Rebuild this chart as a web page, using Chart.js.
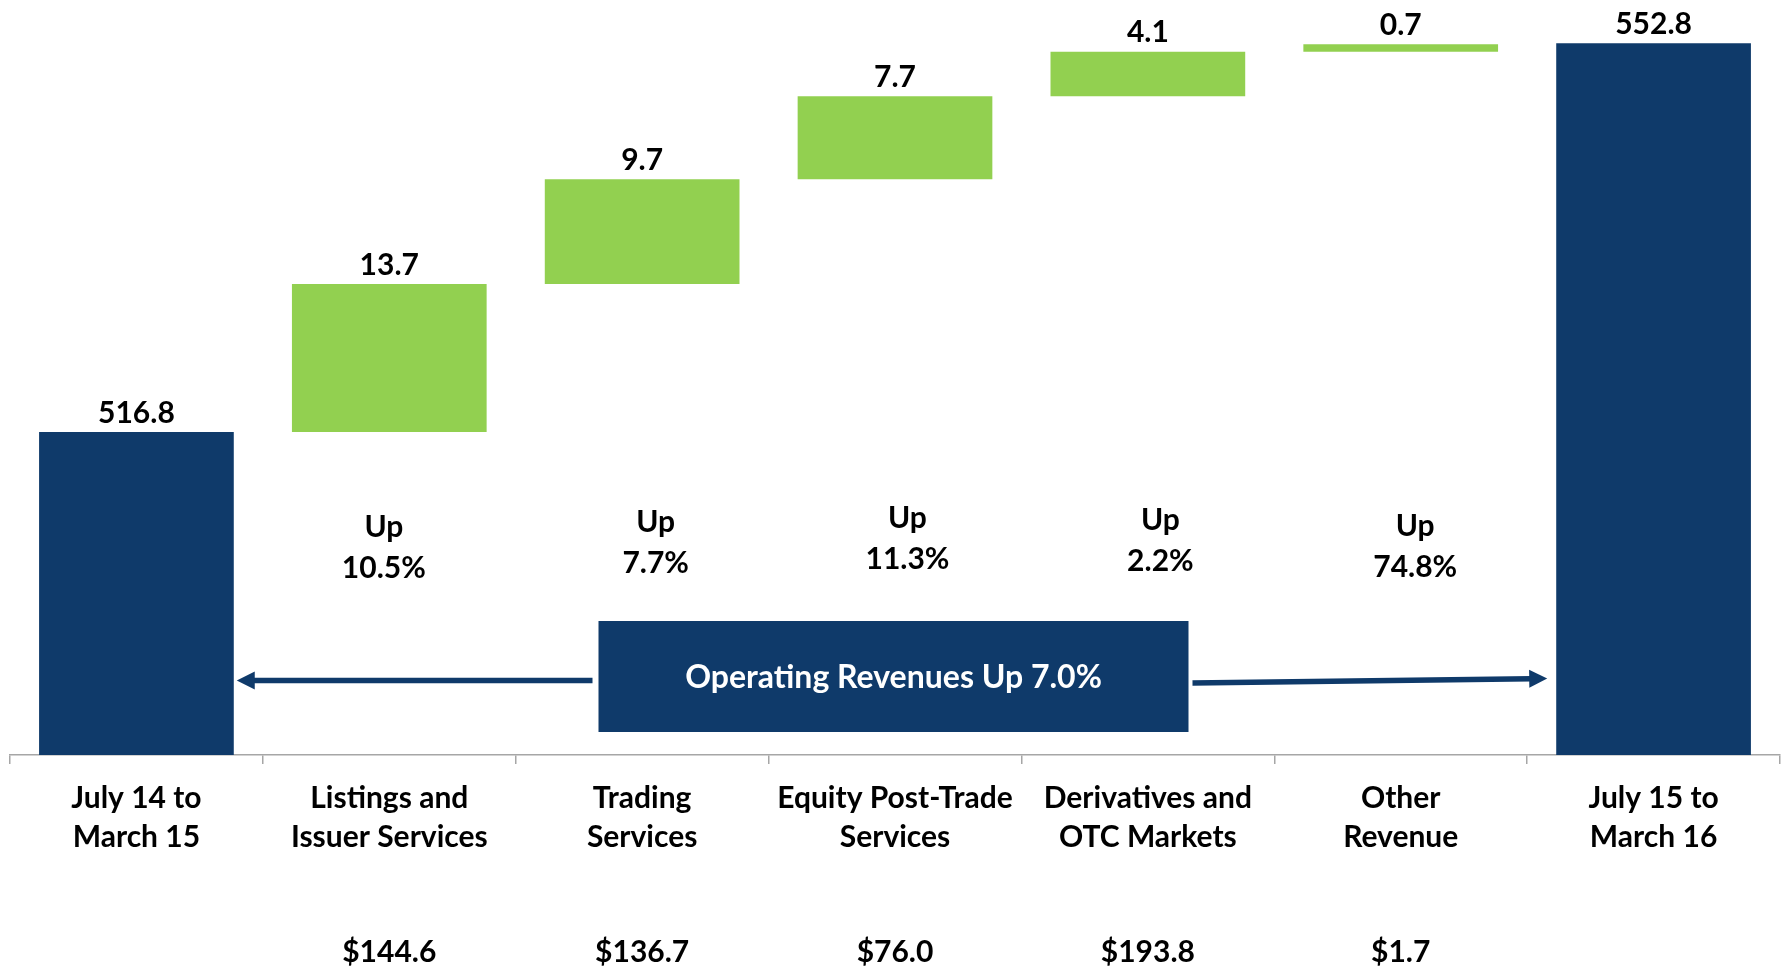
<!DOCTYPE html>
<html>
<head>
<meta charset="utf-8">
<script src="https://cdn.jsdelivr.net/npm/chart.js@4.4.1/dist/chart.umd.min.js"></script>
<style>
  html, body { margin: 0; padding: 0; background: #ffffff; }
  canvas { display: block; }
</style>
</head>
<body>
<canvas id="c" width="1789" height="967"></canvas>
<script>
// ---------- data ----------
const categories = [
  ['July 14 to', 'March 15'],
  ['Listings and', 'Issuer Services'],
  ['Trading', 'Services'],
  ['Equity Post-Trade', 'Services'],
  ['Derivatives and', 'OTC Markets'],
  ['Other', 'Revenue'],
  ['July 15 to', 'March 16']
];
const openingTotal = 516.8;
const closingTotal = 552.8;
const segmentChanges = [13.7, 9.7, 7.7, 4.1, 0.7];
const growthRates = ['10.5%', '7.7%', '11.3%', '2.2%', '74.8%'];
const segmentRevenues = ['$144.6', '$136.7', '$76.0', '$193.8', '$1.7'];
const summaryText = 'Operating Revenues Up 7.0%';
const axisMin = 486.9;
const axisMax = 556.8;

// ---------- styles ----------
const NAVY = '#0F3A6A';
const GREEN = '#92D050';
const FONT = 'Lato';
const FS = 30;

// ---------- build waterfall ranges ----------
const ranges = [];
const barLabels = [];
const barColors = [];
ranges.push([axisMin, openingTotal]);
barLabels.push(openingTotal.toFixed(1));
barColors.push(NAVY);
let running = openingTotal;
segmentChanges.forEach(v => {
  ranges.push([running, running + v]);
  running += v;
  barLabels.push(v.toFixed(1));
  barColors.push(GREEN);
});
ranges.push([axisMin, closingTotal]);
barLabels.push(closingTotal.toFixed(1));
barColors.push(NAVY);

function drawArrow(ctx, x1, y1, x2, y2, headLen, headHalf, width) {
  const ang = Math.atan2(y2 - y1, x2 - x1);
  const bx = x2 - Math.cos(ang) * headLen;
  const by = y2 - Math.sin(ang) * headLen;
  ctx.strokeStyle = NAVY;
  ctx.lineWidth = width;
  ctx.lineCap = 'butt';
  ctx.beginPath();
  ctx.moveTo(x1, y1);
  ctx.lineTo(bx + Math.cos(ang) * 2, by + Math.sin(ang) * 2);
  ctx.stroke();
  ctx.fillStyle = NAVY;
  ctx.beginPath();
  ctx.moveTo(x2, y2);
  ctx.lineTo(bx - Math.sin(ang) * headHalf, by + Math.cos(ang) * headHalf);
  ctx.lineTo(bx + Math.sin(ang) * headHalf, by - Math.cos(ang) * headHalf);
  ctx.closePath();
  ctx.fill();
}

const annotate = {
  id: 'annotate',
  afterDatasetsDraw(chart) {
    const ctx = chart.ctx;
    const xs = chart.scales.x;
    const meta = chart.getDatasetMeta(0);
    ctx.save();
    ctx.font = `bold ${FS}px ${FONT}`;
    ctx.fillStyle = '#000000';
    ctx.textAlign = 'center';
    ctx.textBaseline = 'alphabetic';

    // value labels above bars
    meta.data.forEach((el, i) => {
      ctx.fillText(barLabels[i], el.x, el.y - 9.5);
    });

    // growth annotations
    const offs = [[-5.5, 536.7], [13.5, 531.7], [12.5, 527.7], [12.5, 529.7], [14.5, 535.7]];
    growthRates.forEach((g, i) => {
      const cx = xs.getPixelForValue(i + 1) + offs[i][0];
      ctx.fillText('Up', cx, offs[i][1]);
      ctx.fillText(g, cx, offs[i][1] + 41);
    });

    // segment revenue row
    segmentRevenues.forEach((s, i) => {
      ctx.fillText(s, xs.getPixelForValue(i + 1), 962);
    });

    // summary box
    const bx = xs.getPixelForValue(3) - 1.5;
    const bw = 590, btop = 621, bh = 111;
    ctx.fillStyle = NAVY;
    ctx.fillRect(bx - bw / 2, btop, bw, bh);
    ctx.fillStyle = '#ffffff';
    ctx.font = `bold 32px ${FONT}`;
    ctx.fillText(summaryText, bx, 688);

    // arrows
    const first = meta.data[0];
    const last = meta.data[meta.data.length - 1];
    const firstRight = first.x + first.width / 2;
    const lastLeft = last.x - last.width / 2;
    drawArrow(ctx, bx - bw / 2 - 6, 680.5, firstRight + 3, 680.5, 18, 9, 5.5);
    drawArrow(ctx, bx + bw / 2 + 4, 683, lastLeft - 9, 678.5, 18, 9, 5.5);

    ctx.restore();
  }
};

function build() {
  new Chart(document.getElementById('c'), {
    type: 'bar',
    data: {
      labels: categories,
      datasets: [{
        data: ranges,
        backgroundColor: barColors,
        borderWidth: 0,
        barPercentage: 0.77,
        categoryPercentage: 1.0
      }]
    },
    options: {
      responsive: false,
      animation: false,
      layout: { padding: { left: 10, right: 9, top: 0, bottom: 0 } },
      plugins: { legend: { display: false }, tooltip: { enabled: false } },
      scales: {
        x: {
          grid: {
            display: true,
            offset: true,
            drawOnChartArea: false,
            drawTicks: true,
            tickLength: 9,
            color: '#A6A6A6',
            lineWidth: 1.5
          },
          border: { display: true, color: '#A6A6A6', width: 1.5 },
          ticks: {
            color: '#000000',
            font: { family: FONT, weight: 'bold', size: FS, lineHeight: 39 / FS },
            padding: 14.5,
            autoSkip: false,
            maxRotation: 0,
            minRotation: 0
          },
          afterFit(scale) { scale.height = 212; }
        },
        y: {
          display: false,
          min: axisMin,
          max: axisMax
        }
      }
    },
    plugins: [annotate]
  });
}

if (document.fonts && document.fonts.load) {
  Promise.all([
    document.fonts.load(`bold ${FS}px ${FONT}`),
    document.fonts.load(`bold 32px ${FONT}`)
  ]).then(build, build);
} else {
  build();
}
</script>
</body>
</html>
